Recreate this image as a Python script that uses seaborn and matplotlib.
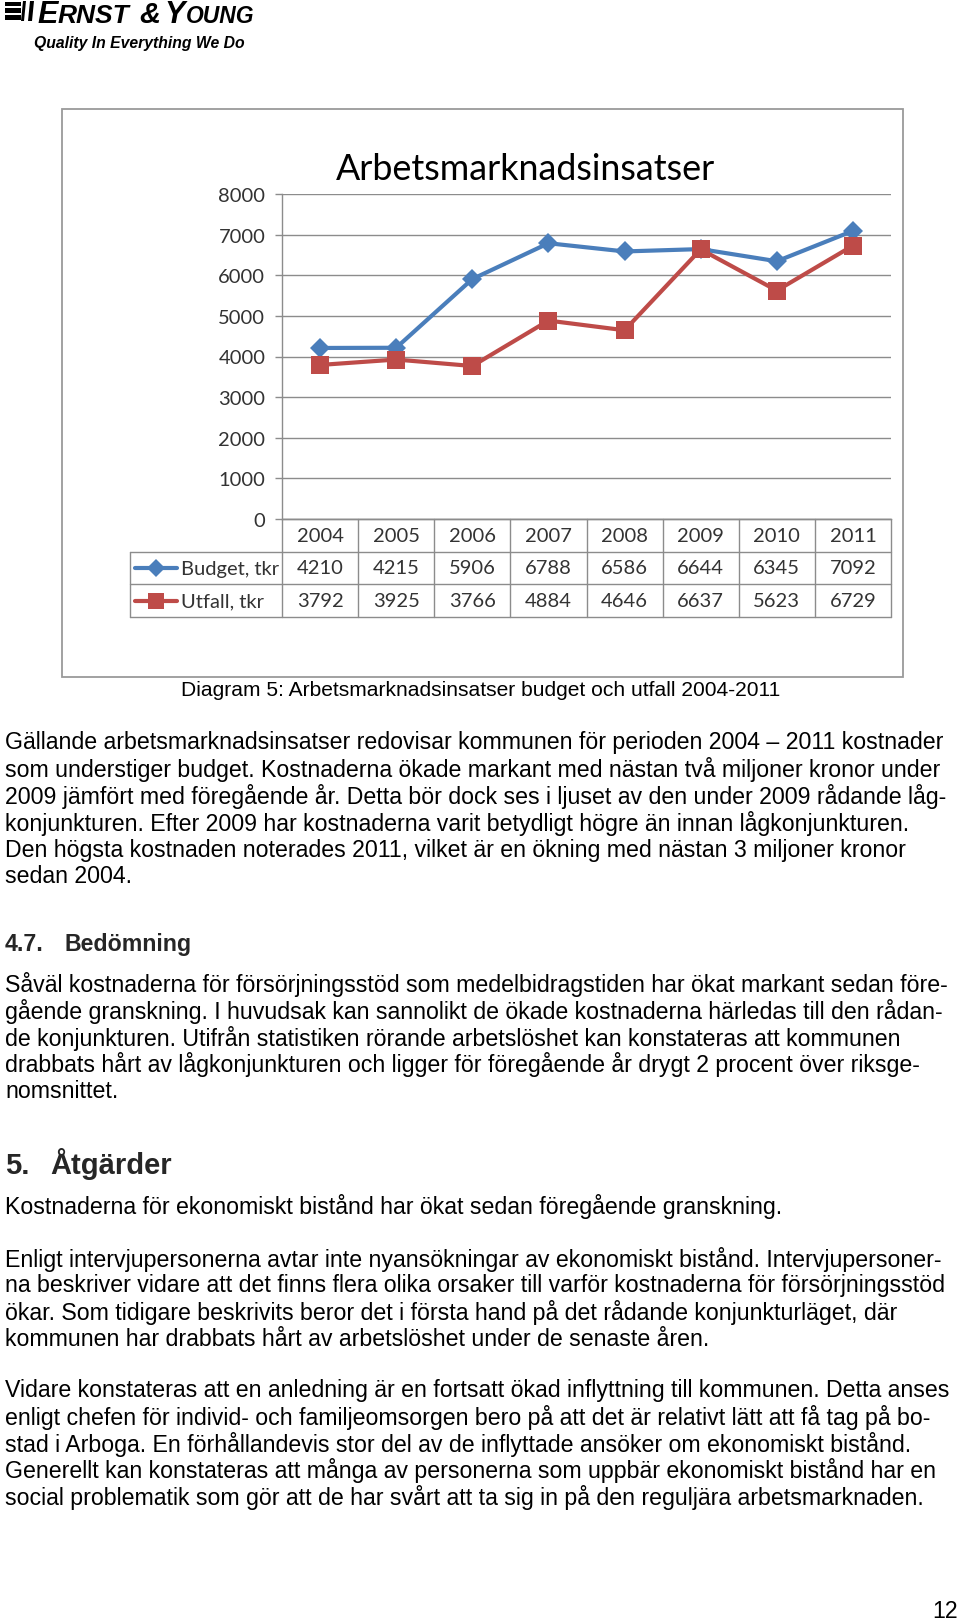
import numpy as np
import pandas as pd
import matplotlib
matplotlib.use("Agg")
import matplotlib.pyplot as plt
import seaborn as sns
from matplotlib.patches import Rectangle, Polygon
from matplotlib.lines import Line2D

# ---------------- data ----------------
years = ["2004", "2005", "2006", "2007", "2008", "2009", "2010", "2011"]
budget = [4210, 4215, 5906, 6788, 6586, 6644, 6345, 7092]
utfall = [3792, 3925, 3766, 4884, 4646, 6637, 5623, 6729]
series_names = ["Budget, tkr", "Utfall, tkr"]
y_ticks = [0, 1000, 2000, 3000, 4000, 5000, 6000, 7000, 8000]
chart_title = "Arbetsmarknadsinsatser"
caption = "Diagram 5: Arbetsmarknadsinsatser budget och utfall 2004-2011"

para1 = [
    "Gällande arbetsmarknadsinsatser redovisar kommunen för perioden 2004 – 2011 kostnader",
    "som understiger budget. Kostnaderna ökade markant med nästan två miljoner kronor under",
    "2009 jämfört med föregående år. Detta bör dock ses i ljuset av den under 2009 rådande låg-",
    "konjunkturen. Efter 2009 har kostnaderna varit betydligt högre än innan lågkonjunkturen.",
    "Den högsta kostnaden noterades 2011, vilket är en ökning med nästan 3 miljoner kronor",
    "sedan 2004.",
]
para2 = [
    "Såväl kostnaderna för försörjningsstöd som medelbidragstiden har ökat markant sedan före-",
    "gående granskning. I huvudsak kan sannolikt de ökade kostnaderna härledas till den rådan-",
    "de konjunkturen. Utifrån statistiken rörande arbetslöshet kan konstateras att kommunen",
    "drabbats hårt av lågkonjunkturen och ligger för föregående år drygt 2 procent över riksge-",
    "nomsnittet.",
]
para3 = ["Kostnaderna för ekonomiskt bistånd har ökat sedan föregående granskning."]
para4 = [
    "Enligt intervjupersonerna avtar inte nyansökningar av ekonomiskt bistånd. Intervjupersoner-",
    "na beskriver vidare att det finns flera olika orsaker till varför kostnaderna för försörjningsstöd",
    "ökar. Som tidigare beskrivits beror det i första hand på det rådande konjunkturläget, där",
    "kommunen har drabbats hårt av arbetslöshet under de senaste åren.",
]
para5 = [
    "Vidare konstateras att en anledning är en fortsatt ökad inflyttning till kommunen. Detta anses",
    "enligt chefen för individ- och familjeomsorgen bero på att det är relativt lätt att få tag på bo-",
    "stad i Arboga. En förhållandevis stor del av de inflyttade ansöker om ekonomiskt bistånd.",
    "Generellt kan konstateras att många av personerna som uppbär ekonomiskt bistånd har en",
    "social problematik som gör att de har svårt att ta sig in på den reguljära arbetsmarknaden.",
]

# ---------------- setup ----------------
sns.set_theme(style="white")
plt.rcParams["font.family"] = ["Liberation Sans", "DejaVu Sans"]

W, H = 960, 1624
fig = plt.figure(figsize=(W / 100, H / 100), dpi=100)
fig.patch.set_facecolor("white")


def fx(x):
    return x / W


def fy(y):
    return 1 - y / H


BLUE = "#4A7EBB"
RED = "#BE4B48"
GRID = "#8C8C8C"
TXT = "#333333"
CFONT = ["Lato", "DejaVu Sans"]

# ---------------- logo ----------------
for (y0, y1) in [(3, 7), (9, 14), (16, 21)]:
    fig.add_artist(Rectangle((fx(5), fy(y1)), fx(21) - fx(5), fy(y0) - fy(y1),
                             transform=fig.transFigure, color="black", lw=0))
for (xa, xb) in [(21, 26), (28, 34)]:
    fig.add_artist(Polygon([(fx(xa), fy(22)), (fx(xb) - fx(2), fy(22)),
                            (fx(xb), fy(2)), (fx(xa) + fx(2), fy(2))],
                           closed=True, transform=fig.transFigure, color="black", lw=0))
logo_parts = [("E", 37, 22), ("RNST", 58, 19), ("&", 139, 21), ("Y", 164, 22), ("OUNG", 186, 16.5)]
for s, x, size in logo_parts:
    fig.text(fx(x), fy(23), s, ha="left", va="baseline", fontsize=size,
             fontweight="bold", fontstyle="italic", color="black")
fig.text(fx(34), fy(48), "Quality In Everything We Do", ha="left", va="baseline",
         fontsize=11.3, fontweight="bold", fontstyle="italic", color="black")

# ---------------- chart frame ----------------
fig.add_artist(Rectangle((fx(62), fy(678)), fx(903) - fx(62), fy(110) - fy(678),
                         transform=fig.transFigure, fill=False, ec="#9A9A9A", lw=1.3))

# ---------------- main axes ----------------
ax = fig.add_axes([fx(282), fy(520), (891 - 282) / W, (520 - 195) / H])
df = pd.DataFrame({
    "year": years * 2,
    "value": budget + utfall,
    "series": [series_names[0]] * len(years) + [series_names[1]] * len(years),
})
sns.lineplot(data=df, x="year", y="value", hue="series", style="series",
             palette={series_names[0]: BLUE, series_names[1]: RED},
             markers={series_names[0]: "D", series_names[1]: "s"},
             dashes=False, sort=False, legend=False, lw=3.0,
             markeredgewidth=0, ax=ax)
msizes = [10.5, 12.5]
for ln, ms in zip(ax.lines, msizes):
    ln.set_markersize(ms)

ax.set_xlim(-0.5, len(years) - 0.5)
ax.set_ylim(0, 8000)
ax.set_yticks(y_ticks)
ax.set_yticklabels([str(v) for v in y_ticks])
ax.set_xticks([])
ax.set_xlabel("")
ax.set_ylabel("")
ax.yaxis.grid(True, color=GRID, lw=1.0)
ax.xaxis.grid(False)
ax.set_axisbelow(True)
for sp in ["top", "right"]:
    ax.spines[sp].set_visible(False)
for sp in ["left", "bottom"]:
    ax.spines[sp].set_color(GRID)
    ax.spines[sp].set_linewidth(1.0)
ax.tick_params(axis="y", length=5, width=1.0, color=GRID, direction="out",
               labelsize=14.5, labelcolor=TXT, pad=7, left=True)
for lab in ax.get_yticklabels():
    lab.set_fontfamily(CFONT)
ax.set_facecolor("none")

fig.text(fx(525.5), fy(170), chart_title, ha="center", va="center",
         fontsize=25.8, family=CFONT, color="black")

# ---------------- data table ----------------
col_w = (891 - 282) / len(years)
xl = -0.5 - (282 - 130) / col_w
tax = fig.add_axes([fx(130), fy(618), (891 - 130) / W, (618 - 520) / H])
tax.set_xlim(xl, len(years) - 0.5)
tax.set_ylim(3, 0)
tax.axis("off")
n = len(years)
for yy in [0, 1, 2, 3]:
    x0 = -0.5 if yy == 0 else xl
    tax.plot([x0, n - 0.5], [yy, yy], color=GRID, lw=1.0, clip_on=False)
for i in range(n + 1):
    tax.plot([i - 0.5, i - 0.5], [0, 3], color=GRID, lw=1.0, clip_on=False)
tax.plot([xl, xl], [1, 3], color=GRID, lw=1.0, clip_on=False)

for i, yr in enumerate(years):
    tax.text(i, 0.5, yr, ha="center", va="center", fontsize=14.5, family=CFONT, color=TXT)
    tax.text(i, 1.5, str(budget[i]), ha="center", va="center", fontsize=14.5, family=CFONT, color=TXT)
    tax.text(i, 2.5, str(utfall[i]), ha="center", va="center", fontsize=14.5, family=CFONT, color=TXT)

key_x0 = xl + (135 - 130) / col_w
key_x1 = xl + (177 - 130) / col_w
for row, name, color, mk, ms in [(1.5, series_names[0], BLUE, "D", 9), (2.5, series_names[1], RED, "s", 11.5)]:
    tax.add_line(Line2D([key_x0, key_x1], [row, row], color=color, lw=3.0, clip_on=False))
    tax.add_line(Line2D([(key_x0 + key_x1) / 2], [row], marker=mk, markersize=ms,
                        color=color, mew=0, clip_on=False))
    tax.text(xl + (181 - 130) / col_w, row, name, ha="left", va="center",
             fontsize=14.5, family=CFONT, color=TXT)

# ---------------- document text ----------------
BODY = 16.7
fig.text(fx(181), fy(691), caption, ha="left", va="center", fontsize=15.1, color="black")


def draw_par(lines, y0, step):
    for k, s in enumerate(lines):
        fig.text(fx(5), fy(y0 + k * step), s, ha="left", va="center", fontsize=BODY, color="black")


draw_par(para1, 742.5, 26.9)
fig.text(fx(5), fy(944.5), "4.7.", ha="left", va="center", fontsize=BODY, fontweight="bold")
fig.text(fx(65), fy(944.5), "Bedömning", ha="left", va="center", fontsize=BODY, fontweight="bold")
draw_par(para2, 984.9, 26.65)
fig.text(fx(5), fy(1174), "5.", ha="left", va="baseline", fontsize=21, fontweight="bold")
fig.text(fx(50), fy(1174), "Åtgärder", ha="left", va="baseline", fontsize=21, fontweight="bold")
draw_par(para3, 1206.5, 26.7)
draw_par(para4, 1259.3, 26.6)
draw_par(para5, 1390.8, 26.7)
fig.text(fx(958), fy(1612), "12", ha="right", va="center", fontsize=BODY, color="black")

fig.savefig("out.png", dpi=100, facecolor="white")
